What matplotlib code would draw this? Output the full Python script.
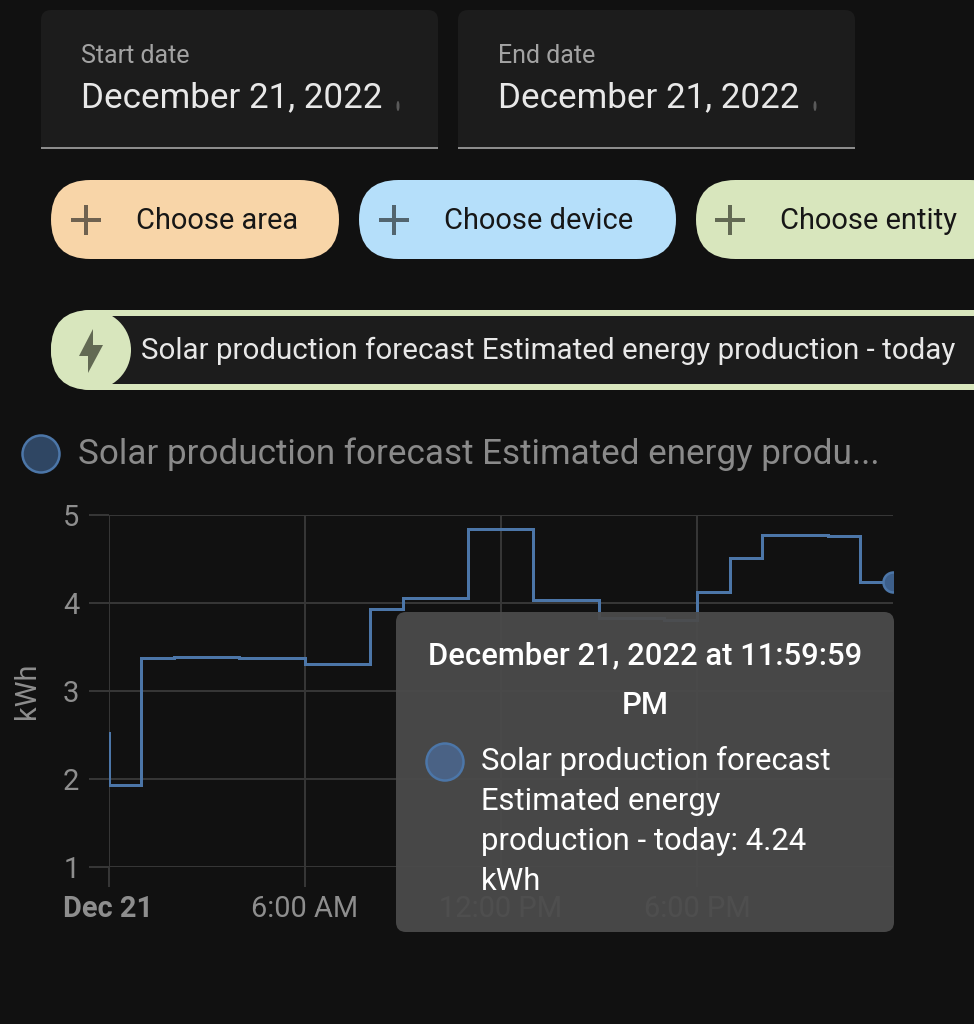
import matplotlib
matplotlib.use('Agg')
import matplotlib.pyplot as plt
from matplotlib.patches import FancyBboxPatch, Circle, Ellipse, Rectangle, Polygon

plt.rc('font', family=['Roboto', 'DejaVu Sans'])

# forecast steps, last hour value is repeated to close the step
hours = [0, 0, 1, 2, 4, 6, 8, 9, 11, 13, 15, 17, 18, 19, 20, 22, 23, 24]
kwh = [2.52, 1.93, 3.37, 3.39, 3.38, 3.31, 3.93, 4.06, 4.84, 4.03, 3.83, 3.81, 4.13, 4.51, 4.77, 4.76, 4.24, 4.24]
x_ticks = [0, 6, 12, 18]
x_labels = ['Dec 21', '6:00 AM', '12:00 PM', '6:00 PM']
y_ticks = [1, 2, 3, 4, 5]
last_value = 4.24

W, H = 974, 1024
BG = '#111111'
PANEL = '#1c1c1c'
GRID = '#363636'
BLUE = '#4c76a8'
AXIS_TXT = '#8e8e8e'


def px(n):
    # pixels to points
    return n * 0.72


fig = plt.figure(figsize=(W / 100, H / 100), dpi=100, facecolor=BG)

# chart, placed by pixel box
left, right, top, bottom = 108.5, 893, 515, 867
ax = fig.add_axes([left / W, 1 - bottom / H, (right - left) / W, (bottom - top) / H])
ax.set_facecolor('none')
ax.set_xlim(0, 24)
ax.set_ylim(1, 5)
for s in ax.spines.values():
    s.set_visible(False)
ax.set_xticks(x_ticks)
ax.set_xticklabels(x_labels)
ax.set_yticks(y_ticks)
ax.grid(True, color=GRID, linewidth=px(2))
ax.set_axisbelow(True)
ax.tick_params(axis='both', color=GRID, width=px(2), length=px(20), labelcolor=AXIS_TXT, labelsize=px(29), pad=px(8))
ax.tick_params(axis='y', pad=px(9))
ax.get_xticklabels()[0].set_fontweight('bold')
ax.set_ylabel('kWh', color=AXIS_TXT, fontsize=px(29), labelpad=px(22))
ax.step(hours, kwh, where='post', color=BLUE, linewidth=px(3), solid_joinstyle='miter', zorder=3)
ax.plot([24], [last_value], 'o', ms=px(20), mfc='#3d5f8a', mec=BLUE, mew=px(2.5), zorder=4)

# ui parts on top, in pixel coordinates
ui = fig.add_axes([0, 0, 1, 1], zorder=5)
ui.set_xlim(0, W)
ui.set_ylim(H, 0)
ui.axis('off')


def rbox(x0, y0, x1, y1, r, color, **kw):
    p = FancyBboxPatch((x0 + r, y0 + r), x1 - x0 - 2 * r, y1 - y0 - 2 * r,
                       boxstyle='round,pad=%g,rounding_size=%g' % (r, r),
                       fc=color, ec='none', **kw)
    ui.add_patch(p)
    return p


def label(x, y, s, size, color, **kw):
    kw.setdefault('va', 'center')
    ui.text(x, y, s, fontsize=px(size), color=color, **kw)


# date fields
for x0, name in [(41, 'Start date'), (458, 'End date')]:
    rbox(x0, 10, x0 + 397, 160, 10, PANEL)
    ui.add_patch(Rectangle((x0, 147), 397, 20, fc=BG, ec='none'))
    ui.add_patch(Rectangle((x0, 147), 397, 2, fc='#8c8c8c', ec='none'))
    label(x0 + 40, 56, name, 25, '#a3a3a3')
    label(x0 + 40, 98, 'December 21, 2022', 35, '#e8e8e8')
    ui.add_patch(Ellipse((x0 + 357, 106), 3, 10, fc='#5a5a5a', ec='none'))

# chips
chips = [(51, 339, '#f8d5a8', '#6f6250', 'Choose area', 86, 136),
         (359, 676, '#b5dffa', '#52656f', 'Choose device', 394, 444),
         (696, 1010, '#d8e6bd', '#626953', 'Choose entity', 730, 780)]
for x0, x1, c, ic, name, cx, tx in chips:
    rbox(x0, 180, x1, 259, 39.5, c)
    ui.plot([cx - 15, cx + 15], [220, 220], color=ic, lw=px(4), solid_capstyle='butt')
    ui.plot([cx, cx], [205, 235], color=ic, lw=px(4), solid_capstyle='butt')
    label(tx, 221, name, 29, '#161616')

# selected entity chip
GREEN = '#d8e6bd'
rbox(51, 310, 1040, 390, 40, GREEN)
ui.add_patch(Rectangle((100, 316), 880, 68, fc=PANEL, ec='none'))
ui.add_patch(Ellipse((91, 350), 80, 80, fc=GREEN, ec='none'))
ui.add_patch(Polygon([(93, 329), (79, 356), (88, 356), (88, 373), (103, 345), (93, 345)], fc='#626953', ec='none'))
label(141, 351, 'Solar production forecast Estimated energy production - today', 29.5, '#e8e8e8')

# legend
ui.add_patch(Circle((41, 454), 18.5, fc='#2f4663', ec=BLUE, lw=px(2.5)))
label(78, 454, 'Solar production forecast Estimated energy produ...', 35, '#8a8a8a')

# tooltip
rbox(396, 612, 894, 932, 10, '#4b4b4b', alpha=0.95)
label(645, 656, 'December 21, 2022 at 11:59:59', 31, '#ffffff', ha='center', fontweight='medium')
label(645, 706, 'PM', 31, '#ffffff', ha='center', fontweight='medium')
ui.add_patch(Circle((445, 762), 18.5, fc='#4a6285', ec=BLUE, lw=px(2.5)))
for y, s in zip([761, 801, 841, 881], ['Solar production forecast', 'Estimated energy', 'production - today: 4.24', 'kWh']):
    label(481, y, s, 31, '#ffffff')

fig.savefig('out.png', dpi=100, facecolor=BG)
